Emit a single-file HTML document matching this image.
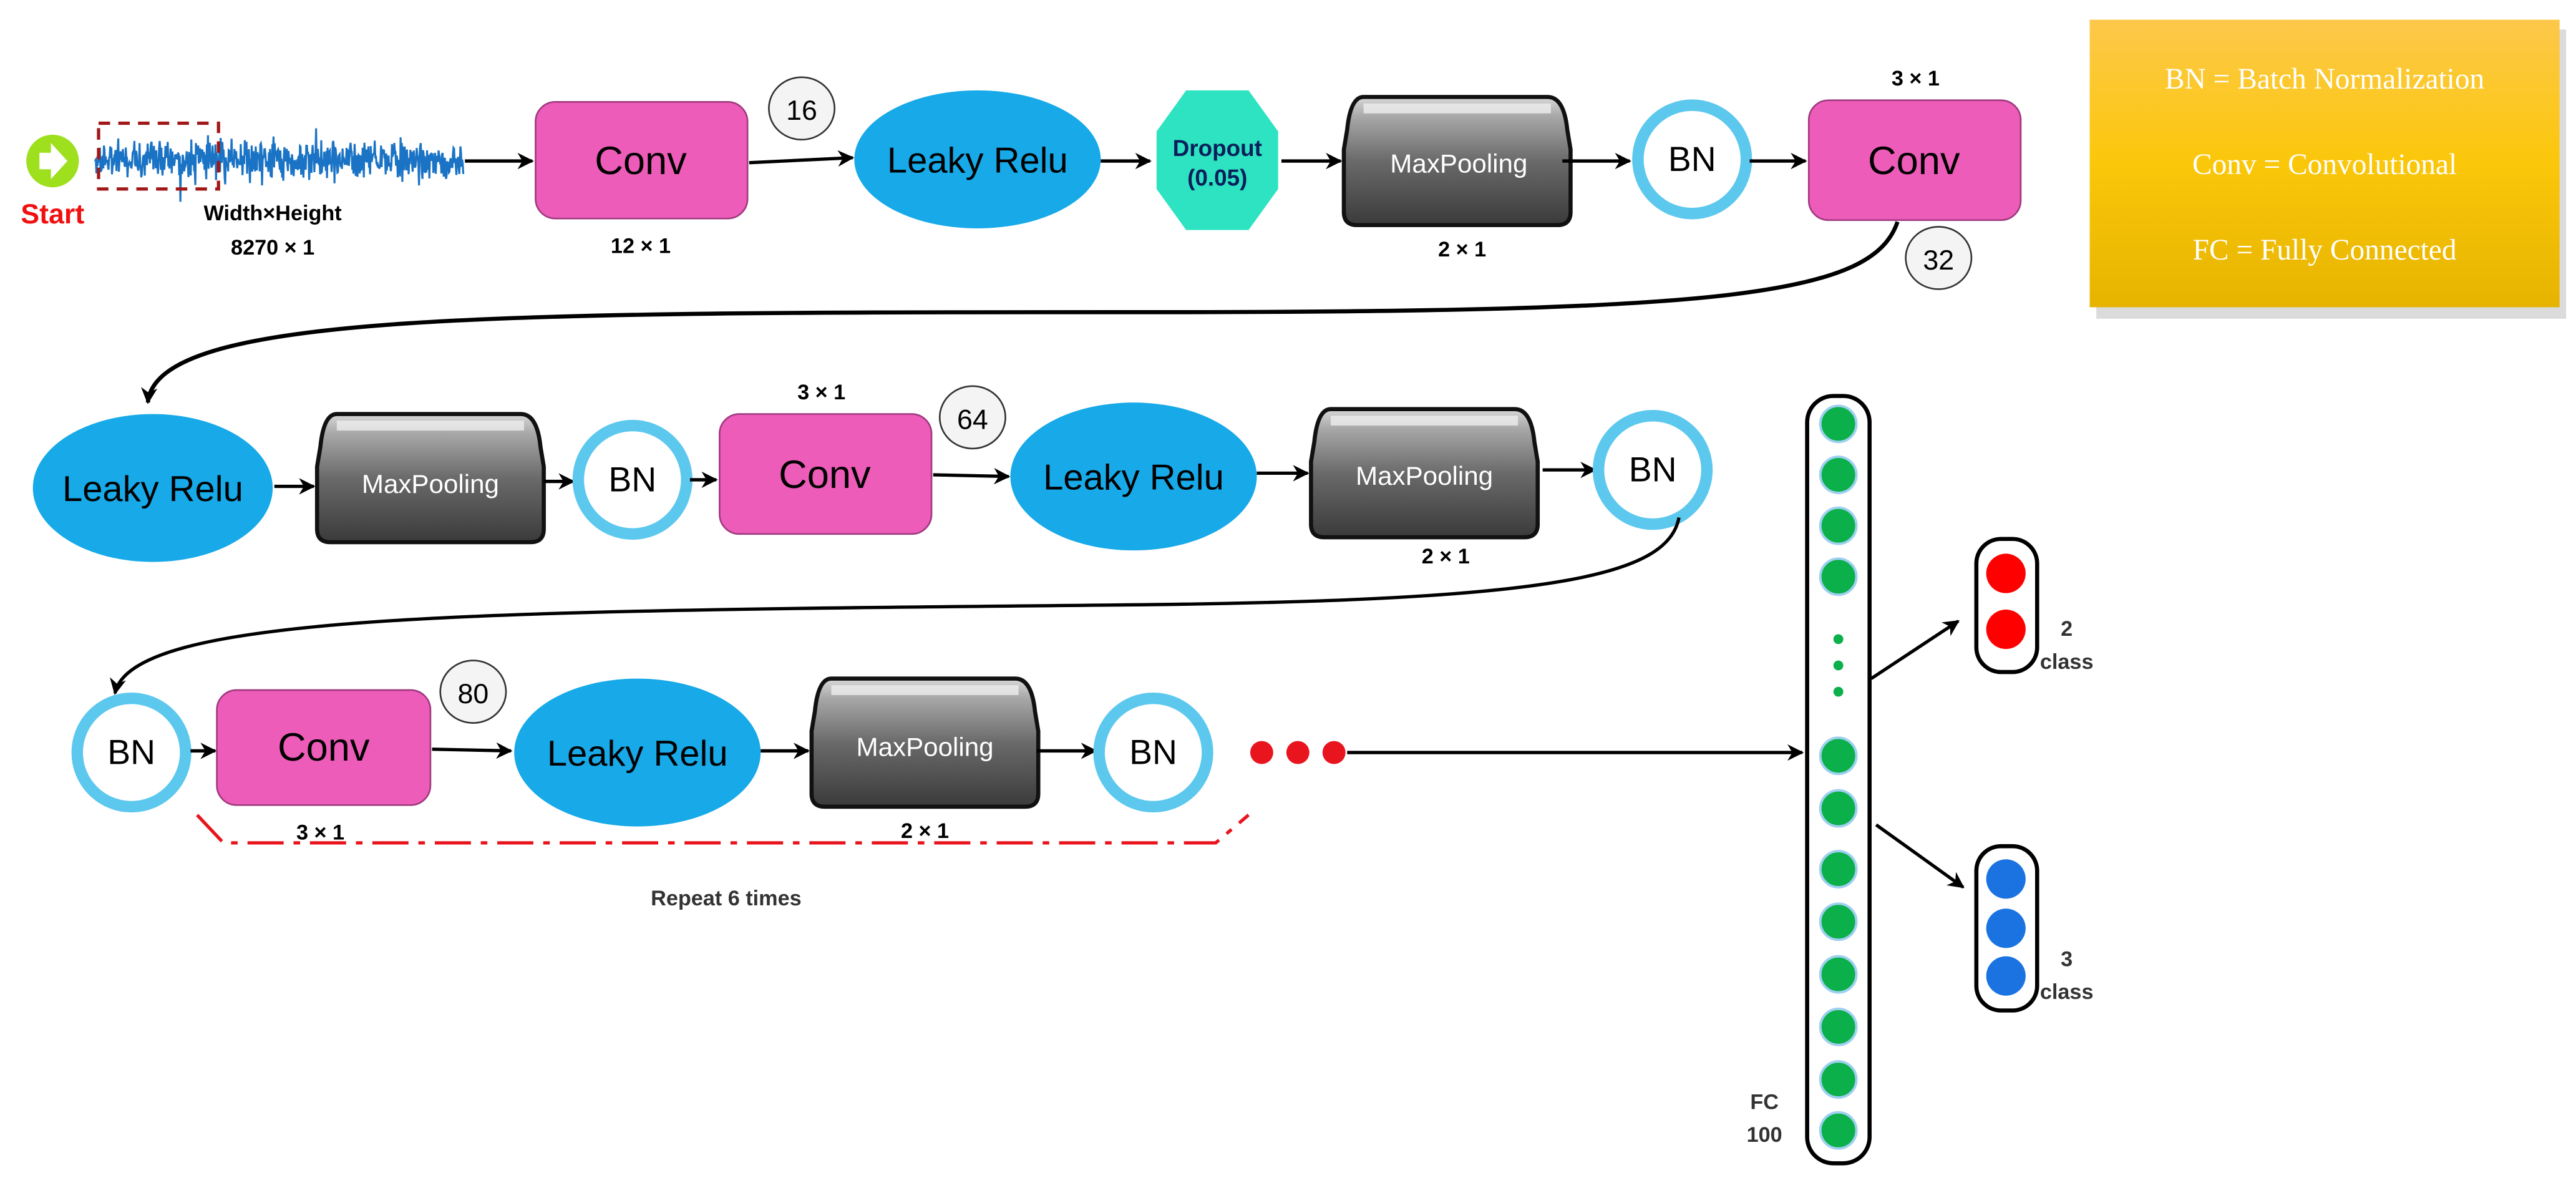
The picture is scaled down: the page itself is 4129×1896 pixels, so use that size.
<!DOCTYPE html>
<html><head><meta charset="utf-8"><style>
html,body{margin:0;padding:0;background:#fff;}
svg{display:block;}
text{font-family:"Liberation Sans",sans-serif;}
</style></head><body>
<svg width="4129" height="1896" viewBox="0 0 1568 720" preserveAspectRatio="none" xmlns="http://www.w3.org/2000/svg">
<defs>
<marker id="ah" markerWidth="10" markerHeight="10" refX="9" refY="5" orient="auto" markerUnits="userSpaceOnUse"><path d="M0,0 L10,5 L0,10 L3,5 Z" fill="#000"/></marker>
<linearGradient id="mp" x1="0" y1="0" x2="0" y2="1"><stop offset="0" stop-color="#d8d8d8"/><stop offset="0.15" stop-color="#a8a8a8"/><stop offset="0.5" stop-color="#6a6a6a"/><stop offset="1" stop-color="#3a3a3a"/></linearGradient>
<linearGradient id="gold" x1="0" y1="0" x2="0" y2="1"><stop offset="0" stop-color="#fdc84a"/><stop offset="0.5" stop-color="#fbc70a"/><stop offset="1" stop-color="#e6b300"/></linearGradient>
<g id="mpool"><path d="M12,0 H124 Q134,0 136,20 L138,32 V70 Q138,78 130,78 H8 Q0,78 0,70 V32 L2,20 Q4,0 12,0Z" fill="url(#mp)" stroke="#111" stroke-width="2.5"/><rect x="12" y="4" width="114" height="6" fill="#eee" opacity="0.8"/></g>
<g id="bn"><circle r="33" fill="#fff" stroke="#5cc8ee" stroke-width="7"/><text y="7" text-anchor="middle" font-size="21" fill="#000">BN</text></g>
</defs>

<!-- Row 1 -->
<circle cx="32" cy="98" r="16" fill="#9ee01e"/>
<path d="M24,93 H31 V87 L41,98 L31,109 V103 H24 Z" fill="#fff"/>
<text x="32" y="136" text-anchor="middle" font-size="17" font-weight="bold" fill="#f01010">Start</text>
<path id="wave" d="" stroke="#1a73c4" stroke-width="1.2" fill="none"/>
<rect x="60" y="75" width="73" height="40" fill="none" stroke="#a01818" stroke-width="2" stroke-dasharray="7,5"/>
<text x="166" y="134" text-anchor="middle" font-size="13" font-weight="bold">Width×Height</text>
<text x="166" y="155" text-anchor="middle" font-size="13" font-weight="bold">8270 × 1</text>
<line x1="283" y1="98" x2="324" y2="98" stroke="#000" stroke-width="2" marker-end="url(#ah)"/>
<rect x="326" y="62" width="129" height="71" rx="12" fill="#ec5cb8" stroke="#a03a80" stroke-width="1"/>
<text x="390" y="106" text-anchor="middle" font-size="24">Conv</text>
<text x="390" y="154" text-anchor="middle" font-size="13" font-weight="bold">12 × 1</text>
<ellipse cx="488" cy="66" rx="20" ry="19" fill="#f4f4f4" stroke="#333" stroke-width="1"/>
<text x="488" y="73" text-anchor="middle" font-size="17">16</text>
<line x1="456" y1="99" x2="519" y2="96" stroke="#000" stroke-width="2" marker-end="url(#ah)"/>
<ellipse cx="595" cy="97" rx="75" ry="42" fill="#17a9e8"/>
<text x="595" y="105" text-anchor="middle" font-size="22">Leaky Relu</text>
<line x1="670" y1="98" x2="700" y2="98" stroke="#000" stroke-width="2" marker-end="url(#ah)"/>
<polygon points="722,55 760,55 778,80 778,115 760,140 722,140 704,115 704,80" fill="#2de3c1"/>
<text x="741" y="95" text-anchor="middle" font-size="14" font-weight="bold" fill="#0a1f5a">Dropout</text>
<text x="741" y="113" text-anchor="middle" font-size="14" font-weight="bold" fill="#0a1f5a">(0.05)</text>
<line x1="780" y1="98" x2="816" y2="98" stroke="#000" stroke-width="2" marker-end="url(#ah)"/>
<use href="#mpool" x="818" y="59"/>
<text x="888" y="105" text-anchor="middle" font-size="16" fill="#fff">MaxPooling</text>
<text x="890" y="156" text-anchor="middle" font-size="13" font-weight="bold">2 × 1</text>
<line x1="951" y1="98" x2="992" y2="98" stroke="#000" stroke-width="2" marker-end="url(#ah)"/>
<use href="#bn" x="1030" y="97"/>
<line x1="1065" y1="98" x2="1099" y2="98" stroke="#000" stroke-width="2" marker-end="url(#ah)"/>
<rect x="1101" y="61" width="129" height="73" rx="12" fill="#ec5cb8" stroke="#a03a80" stroke-width="1"/>
<text x="1165" y="106" text-anchor="middle" font-size="24">Conv</text>
<text x="1166" y="52" text-anchor="middle" font-size="13" font-weight="bold">3 × 1</text>
<path d="M1155,135 C1140,180 1050,190 700,190 C300,190 95,190 90,245" fill="none" stroke="#000" stroke-width="2.5" marker-end="url(#ah)"/>
<ellipse cx="1180" cy="157" rx="20" ry="19" fill="#f4f4f4" stroke="#333" stroke-width="1"/>
<text x="1180" y="164" text-anchor="middle" font-size="17">32</text>

<!-- Legend -->
<rect x="1276" y="18" width="286" height="176" fill="#ccc" opacity="0.7"/>
<rect x="1272" y="12" width="286" height="175" fill="url(#gold)"/>
<g fill="#fff" font-size="18" text-anchor="middle">
<text x="1415" y="54" style="font-family:'Liberation Serif',serif">BN = Batch Normalization</text>
<text x="1415" y="106" style="font-family:'Liberation Serif',serif">Conv = Convolutional</text>
<text x="1415" y="158" style="font-family:'Liberation Serif',serif">FC = Fully Connected</text>
</g>

<!-- Row 2 -->
<ellipse cx="93" cy="297" rx="73" ry="45" fill="#17a9e8"/>
<text x="93" y="305" text-anchor="middle" font-size="22">Leaky Relu</text>
<line x1="167" y1="296" x2="191" y2="296" stroke="#000" stroke-width="2" marker-end="url(#ah)"/>
<use href="#mpool" x="193" y="252"/>
<text x="262" y="300" text-anchor="middle" font-size="16" fill="#fff">MaxPooling</text>
<line x1="331" y1="293" x2="349" y2="293" stroke="#000" stroke-width="2" marker-end="url(#ah)"/>
<use href="#bn" x="385" y="292"/>
<line x1="420" y1="292" x2="436" y2="292" stroke="#000" stroke-width="2" marker-end="url(#ah)"/>
<rect x="438" y="252" width="129" height="73" rx="12" fill="#ec5cb8" stroke="#a03a80" stroke-width="1"/>
<text x="502" y="297" text-anchor="middle" font-size="24">Conv</text>
<text x="500" y="243" text-anchor="middle" font-size="13" font-weight="bold">3 × 1</text>
<ellipse cx="592" cy="254" rx="20" ry="19" fill="#f4f4f4" stroke="#333" stroke-width="1"/>
<text x="592" y="261" text-anchor="middle" font-size="17">64</text>
<line x1="568" y1="289" x2="614" y2="290" stroke="#000" stroke-width="2" marker-end="url(#ah)"/>
<ellipse cx="690" cy="290" rx="75" ry="45" fill="#17a9e8"/>
<text x="690" y="298" text-anchor="middle" font-size="22">Leaky Relu</text>
<line x1="765" y1="288" x2="796" y2="288" stroke="#000" stroke-width="2" marker-end="url(#ah)"/>
<use href="#mpool" x="798" y="249"/>
<text x="867" y="295" text-anchor="middle" font-size="16" fill="#fff">MaxPooling</text>
<text x="880" y="343" text-anchor="middle" font-size="13" font-weight="bold">2 × 1</text>
<line x1="939" y1="286" x2="971" y2="286" stroke="#000" stroke-width="2" marker-end="url(#ah)"/>
<use href="#bn" x="1006" y="286"/>
<path d="M1022,315 C1015,350 950,365 700,368 C300,372 80,372 70,422" fill="none" stroke="#000" stroke-width="2" marker-end="url(#ah)"/>

<!-- Row 3 -->
<use href="#bn" x="80" y="458"/>
<line x1="116" y1="457" x2="131" y2="457" stroke="#000" stroke-width="2" marker-end="url(#ah)"/>
<rect x="132" y="420" width="130" height="70" rx="12" fill="#ec5cb8" stroke="#a03a80" stroke-width="1"/>
<text x="197" y="463" text-anchor="middle" font-size="24">Conv</text>
<ellipse cx="288" cy="421" rx="20" ry="19" fill="#f4f4f4" stroke="#333" stroke-width="1"/>
<text x="288" y="428" text-anchor="middle" font-size="17">80</text>
<line x1="263" y1="456" x2="311" y2="457" stroke="#000" stroke-width="2" marker-end="url(#ah)"/>
<ellipse cx="388" cy="458" rx="75" ry="45" fill="#17a9e8"/>
<text x="388" y="466" text-anchor="middle" font-size="22">Leaky Relu</text>
<line x1="463" y1="457" x2="492" y2="457" stroke="#000" stroke-width="2" marker-end="url(#ah)"/>
<use href="#mpool" x="494" y="413"/>
<text x="563" y="460" text-anchor="middle" font-size="16" fill="#fff">MaxPooling</text>
<line x1="631" y1="457" x2="667" y2="457" stroke="#000" stroke-width="2" marker-end="url(#ah)"/>
<use href="#bn" x="702" y="458"/>
<circle cx="768" cy="458" r="7" fill="#e8141e"/>
<circle cx="790" cy="458" r="7" fill="#e8141e"/>
<circle cx="812" cy="458" r="7" fill="#e8141e"/>
<line x1="820" y1="458" x2="1097" y2="458" stroke="#000" stroke-width="2" marker-end="url(#ah)"/>
<path d="M120,496 L136,513 L740,513 L760,496" fill="none" stroke="#e8141e" stroke-width="2" stroke-dasharray="22,6,4,6"/>
<text x="195" y="511" text-anchor="middle" font-size="13" font-weight="bold">3 × 1</text>
<text x="563" y="510" text-anchor="middle" font-size="13" font-weight="bold">2 × 1</text>
<text x="442" y="551" text-anchor="middle" font-size="13" font-weight="bold" fill="#333">Repeat 6 times</text>

<!-- FC -->
<rect x="1100" y="241" width="38" height="467" rx="16" fill="#fff" stroke="#000" stroke-width="2.5"/>
<g fill="#0bb04a" stroke="#9fd0f0" stroke-width="1.5">
<circle cx="1119" cy="258" r="11"/><circle cx="1119" cy="289" r="11"/><circle cx="1119" cy="320" r="11"/><circle cx="1119" cy="351" r="11"/>
<circle cx="1119" cy="460" r="11"/><circle cx="1119" cy="492" r="11"/><circle cx="1119" cy="529" r="11"/><circle cx="1119" cy="561" r="11"/><circle cx="1119" cy="593" r="11"/><circle cx="1119" cy="625" r="11"/><circle cx="1119" cy="657" r="11"/><circle cx="1119" cy="688" r="11"/>
</g>
<g fill="#0bb04a"><circle cx="1119" cy="389" r="3"/><circle cx="1119" cy="405" r="3"/><circle cx="1119" cy="421" r="3"/></g>
<text x="1074" y="675" text-anchor="middle" font-size="13" font-weight="bold" fill="#333">FC</text>
<text x="1074" y="695" text-anchor="middle" font-size="13" font-weight="bold" fill="#333">100</text>
<line x1="1139" y1="413" x2="1192" y2="378" stroke="#000" stroke-width="2" marker-end="url(#ah)"/>
<line x1="1142" y1="502" x2="1195" y2="540" stroke="#000" stroke-width="2" marker-end="url(#ah)"/>
<rect x="1203" y="328" width="37" height="81" rx="15" fill="#fff" stroke="#000" stroke-width="2.5"/>
<circle cx="1221" cy="349" r="12" fill="#f00"/><circle cx="1221" cy="383" r="12" fill="#f00"/>
<text x="1258" y="387" text-anchor="middle" font-size="13" font-weight="bold" fill="#333">2</text>
<text x="1258" y="407" text-anchor="middle" font-size="13" font-weight="bold" fill="#333">class</text>
<rect x="1203" y="515" width="37" height="100" rx="15" fill="#fff" stroke="#000" stroke-width="2.5"/>
<circle cx="1221" cy="535" r="12" fill="#1a73e0"/><circle cx="1221" cy="565" r="12" fill="#1a73e0"/><circle cx="1221" cy="594" r="12" fill="#1a73e0"/>
<text x="1258" y="588" text-anchor="middle" font-size="13" font-weight="bold" fill="#333">3</text>
<text x="1258" y="608" text-anchor="middle" font-size="13" font-weight="bold" fill="#333">class</text>
</svg>
<script>
(function(){var s=12345;function r(){s=(s*1103515245+12345)%2147483648;return s/2147483648;}
var d="M58,97";for(var x=58;x<=282;x+=0.35){var a=(r()+r()+r()-1.5)*11;if(r()<0.06)a*=1.7;d+=" L"+x.toFixed(2)+","+(97+a).toFixed(1);}
document.getElementById("wave").setAttribute("d",d);})();
</script>
</body></html>
